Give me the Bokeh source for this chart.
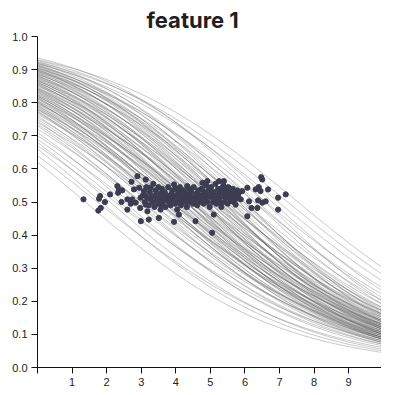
import numpy as np
from bokeh.plotting import figure
from bokeh.models import FixedTicker, Range1d, PrintfTickFormatter, CustomJSTickFormatter
from bokeh.embed import file_html
from bokeh.resources import INLINE

TITLE = "feature 1"
Y_TICKS = [0.0, 0.1, 0.2, 0.3, 0.4, 0.5, 0.6, 0.7, 0.8, 0.9, 1.0]
X_TICKS = [0, 1, 2, 3, 4, 5, 6, 7, 8, 9, 9.95]
X_MAX = 9.95

# logistic curves: probability read at x=0 (left edge) and at x=10 (right edge)
curve_p_start = [
    0.62, 0.64, 0.66, 0.67, 0.68, 0.69, 0.70, 0.71, 0.72, 0.73,
    0.735, 0.74, 0.745, 0.75, 0.755, 0.76, 0.765, 0.77, 0.772, 0.775,
    0.778, 0.78, 0.782, 0.785, 0.787, 0.79, 0.792, 0.795, 0.797, 0.80,
    0.801, 0.803, 0.805, 0.807, 0.81, 0.812, 0.814, 0.816, 0.818, 0.82,
    0.821, 0.823, 0.825, 0.827, 0.83, 0.832, 0.834, 0.836, 0.838, 0.84,
    0.841, 0.843, 0.845, 0.847, 0.85, 0.852, 0.854, 0.856, 0.858, 0.86,
    0.861, 0.863, 0.865, 0.867, 0.868, 0.87, 0.872, 0.874, 0.876, 0.878,
    0.88, 0.881, 0.883, 0.885, 0.887, 0.888, 0.89, 0.892, 0.894, 0.895,
    0.897, 0.898, 0.90, 0.901, 0.903, 0.905, 0.906, 0.908, 0.91, 0.912,
    0.913, 0.915, 0.917, 0.919, 0.92, 0.922, 0.925, 0.928, 0.93, 0.935,
]
curve_p_end = [
    0.045, 0.06, 0.05, 0.08, 0.055, 0.07, 0.09, 0.065, 0.10, 0.075,
    0.085, 0.12, 0.07, 0.095, 0.11, 0.08, 0.13, 0.09, 0.105, 0.075,
    0.10, 0.14, 0.085, 0.115, 0.09, 0.125, 0.08, 0.105, 0.15, 0.095,
    0.11, 0.085, 0.13, 0.10, 0.16, 0.09, 0.12, 0.075, 0.14, 0.105,
    0.095, 0.13, 0.115, 0.17, 0.085, 0.12, 0.105, 0.145, 0.09, 0.135,
    0.11, 0.16, 0.095, 0.125, 0.18, 0.10, 0.14, 0.115, 0.085, 0.155,
    0.12, 0.10, 0.17, 0.13, 0.09, 0.15, 0.115, 0.19, 0.105, 0.14,
    0.125, 0.16, 0.10, 0.20, 0.135, 0.11, 0.175, 0.12, 0.22, 0.145,
    0.13, 0.18, 0.115, 0.155, 0.24, 0.125, 0.165, 0.14, 0.21, 0.12,
    0.17, 0.135, 0.26, 0.15, 0.19, 0.28, 0.16, 0.23, 0.30, 0.20,
]

# observed points
pts_x = [
    1.33, 1.81, 1.78, 1.95, 1.83, 1.76, 2.10, 2.31, 2.36, 2.45,
    2.33, 2.72, 2.89, 2.79, 2.94, 3.08, 2.43, 2.60, 2.70, 2.60,
    2.74, 2.84, 2.98, 3.13, 2.97, 2.99, 3.13, 3.18,
    3.51, 3.95, 4.04, 4.09, 3.56, 3.22, 4.57, 5.05, 5.10,
    3.95, 4.33, 4.77, 4.91, 5.25, 3.13, 3.27,
    6.47, 6.50, 7.18, 6.96, 6.96, 6.67, 6.40, 6.31, 6.45, 6.60,
    6.50, 6.38, 6.36, 6.19, 6.12, 6.07, 5.92, 5.83, 6.07, 5.88,
    5.68, 5.39, 5.34, 5.44, 5.63, 5.73, 5.30,
    3.05, 3.10, 3.15, 3.20, 3.22, 3.25, 3.30, 3.32, 3.35, 3.38,
    3.40, 3.42, 3.45, 3.48, 3.50, 3.52, 3.55, 3.58, 3.60, 3.62,
    3.65, 3.68, 3.70, 3.72, 3.75, 3.78, 3.80, 3.82, 3.85, 3.88,
    3.90, 3.92, 3.95, 3.98, 4.00, 4.02, 4.05, 4.08, 4.10, 4.12,
    4.15, 4.18, 4.20, 4.22, 4.25, 4.28, 4.30, 4.32, 4.35, 4.38,
    4.40, 4.42, 4.45, 4.48, 4.50, 4.52, 4.55, 4.58, 4.60, 4.62,
    4.65, 4.68, 4.70, 4.72, 4.75, 4.78, 4.80, 4.82, 4.85, 4.88,
    4.90, 4.92, 4.95, 4.98, 5.00, 5.02, 5.05, 5.08, 5.10, 5.12,
    5.15, 5.18, 5.20, 5.22, 5.25, 5.28, 5.30, 5.32, 5.35, 5.38,
    5.40, 5.42, 5.45, 5.48, 5.50, 5.52, 5.55, 5.58, 5.60, 5.62,
    5.65, 5.68, 5.70, 5.75, 5.78, 5.80,
]
pts_y = [
    0.508, 0.518, 0.510, 0.500, 0.482, 0.474, 0.523, 0.548, 0.538, 0.535,
    0.528, 0.561, 0.578, 0.538, 0.543, 0.533, 0.500, 0.508, 0.495, 0.477,
    0.508, 0.498, 0.513, 0.518, 0.482, 0.442, 0.492, 0.472,
    0.452, 0.440, 0.477, 0.462, 0.477, 0.447, 0.442, 0.407, 0.462,
    0.553, 0.548, 0.558, 0.563, 0.563, 0.568, 0.543,
    0.575, 0.568, 0.523, 0.513, 0.477, 0.538, 0.545, 0.538, 0.533, 0.502,
    0.498, 0.505, 0.482, 0.482, 0.502, 0.543, 0.533, 0.528, 0.457, 0.508,
    0.523, 0.563, 0.543, 0.513, 0.502, 0.492, 0.498,
    0.520, 0.500, 0.545, 0.510, 0.490, 0.530, 0.515, 0.500, 0.555, 0.485,
    0.520, 0.535, 0.505, 0.495, 0.545, 0.510, 0.525, 0.490, 0.540, 0.500,
    0.515, 0.530, 0.485, 0.505, 0.520, 0.545, 0.500, 0.510, 0.490, 0.525,
    0.535, 0.505, 0.515, 0.495, 0.540, 0.520, 0.500, 0.530, 0.510, 0.545,
    0.490, 0.520, 0.505, 0.535, 0.515, 0.500, 0.525, 0.485, 0.510, 0.540,
    0.520, 0.500, 0.530, 0.510, 0.495, 0.545, 0.515, 0.505, 0.525, 0.490,
    0.535, 0.510, 0.520, 0.500, 0.540, 0.515, 0.495, 0.530, 0.510, 0.550,
    0.520, 0.500, 0.535, 0.485, 0.515, 0.545, 0.525, 0.500, 0.530, 0.510,
    0.555, 0.495, 0.520, 0.540, 0.505, 0.530, 0.515, 0.485, 0.525, 0.550,
    0.500, 0.535, 0.515, 0.530, 0.495, 0.545, 0.520, 0.505, 0.530, 0.515,
    0.540, 0.500, 0.525, 0.510, 0.535, 0.520,
]

def logit(p):
    p = np.asarray(p, dtype=float)
    return np.log(p / (1 - p))

a = logit(curve_p_start)
b = (logit(curve_p_end) - a) / 10.0
grid = np.linspace(0, X_MAX, 120)
xs = [grid for _ in range(len(a))]
ys = [1.0 / (1.0 + np.exp(-(ai + bi * grid))) for ai, bi in zip(a, b)]

p = figure(frame_width=344, frame_height=331, output_backend="svg", toolbar_location=None,
           x_range=Range1d(0, X_MAX), y_range=Range1d(0, 1),
           min_border_left=37, min_border_right=0, min_border_top=27,
           min_border_bottom=0)

p.title.text = TITLE
p.title.text_font = "Inter"
p.title.text_font_size = "22px"
p.title.text_font_style = "bold"
p.title.text_color = "#1f1f1f"
p.title.align = "left"
p.title.offset = 109
p.title.standoff = 8

p.multi_line(xs, ys, line_color="#555555", line_alpha=0.4, line_width=0.8)
p.scatter(pts_x, pts_y, size=5.2, fill_color="#3d3d52", line_color="#3d3d52")

p.xgrid.visible = False
p.ygrid.visible = False
p.outline_line_color = None
p.background_fill_color = "white"

for ax in (p.xaxis[0], p.yaxis[0]):
    ax.axis_line_color = "#111111"
    ax.major_tick_line_color = "#111111"
    ax.major_tick_in = 0
    ax.major_tick_out = 6
    ax.minor_tick_line_color = None
    ax.major_label_text_font = "Liberation Sans"
    ax.major_label_text_font_size = "11px"
    ax.major_label_text_color = "#222222"
    ax.major_label_standoff = 4

p.yaxis.ticker = FixedTicker(ticks=Y_TICKS)
p.yaxis.formatter = PrintfTickFormatter(format="%.1f")
p.xaxis.ticker = FixedTicker(ticks=X_TICKS)
p.xaxis.formatter = CustomJSTickFormatter(
    code="return (tick >= 1 && tick <= 9.5) ? tick.toFixed(0) : '';")

open("out.html", "w").write(file_html(p, INLINE))
